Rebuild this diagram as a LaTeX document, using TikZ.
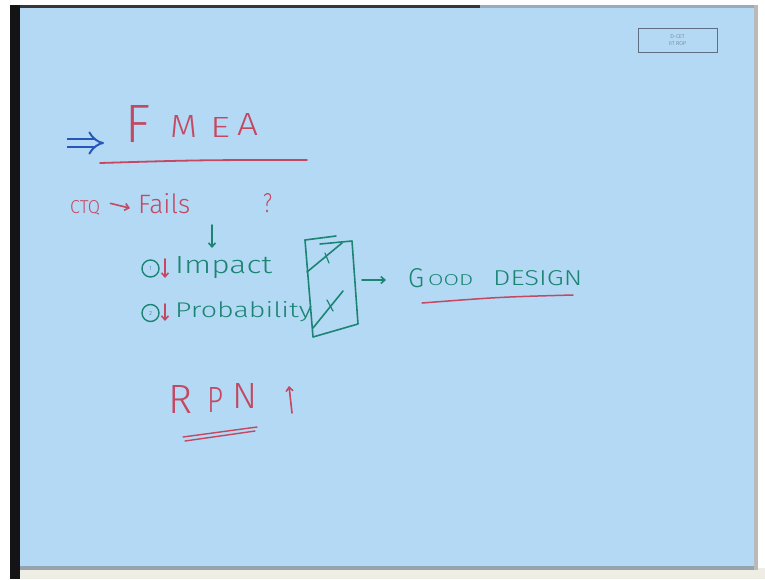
\documentclass[tikz,border=0pt]{standalone}
\usepackage{fontspec}
\setmainfont{Fira Sans}[UprightFont = * Light]
\usepackage{graphicx}
\usetikzlibrary{arrows.meta}

\definecolor{board}{RGB}{180,217,244}
\definecolor{mred}{RGB}{196,72,98}
\definecolor{mgreen}{RGB}{28,132,114}
\definecolor{mblue}{RGB}{38,88,188}
\definecolor{frame}{RGB}{20,20,22}
\definecolor{cream}{RGB}{238,238,228}
\definecolor{tagink}{RGB}{95,110,130}

% a word stretched to a given width and letter height
\newcommand\hw[3]{\resizebox{#1}{#2}{#3}}

\begin{document}
\begin{tikzpicture}[x=1pt,y=-1pt,
  ink/.style={line width=1.6pt, line cap=round, line join=round},
  redink/.style={ink, draw=mred},
  greenink/.style={ink, draw=mgreen},
  word/.style={inner sep=0pt, anchor=base west},
  barb/.style={-{Straight Barb[length=4pt,width=7pt]}},
  ring/.style={circle, draw=mgreen, line width=1.4pt, minimum size=17pt, inner sep=0pt,
               text=mgreen, font=\fontsize{6}{6}\selectfont}]
\useasboundingbox (0,0) rectangle (765,579);

% board and its edges
\fill[white] (0,0) rectangle (765,579);
\fill[cream] (20,568) rectangle (765,579);
\fill[board] (20,8) rectangle (754,568);
\fill[frame] (10,5) rectangle (20,579);
\fill[frame!85] (20,5) rectangle (480,8);
\fill[gray!50!board] (480,5) rectangle (754,8);
\fill[gray!55] (754,5) rectangle (758,570);
\fill[gray!60!board] (20,566) rectangle (754,570);

% corner tag
\node[draw=tagink, line width=0.6pt, minimum width=79pt, minimum height=24pt,
      inner sep=0pt, align=center, text=tagink,
      font=\fontsize{5.5}{6.5}\selectfont] (tag) at (677.5,40) {D-CET\\IIT ROP};

% title
\coordinate (imp0) at (67,143);
\coordinate (imp1) at (104,143);
\draw[draw=mblue, line width=2pt, double=board, double distance=6pt,
      -{Implies[length=7pt]}] (imp0) -- (imp1);
\node[word, text=mred] (tF) at (125,142) {\hw{25pt}{37pt}{F}};
\node[word, text=mred] (tM) at (170,137) {\hw{27pt}{22pt}{M}};
\node[word, text=mred] (tE) at (210,137) {\hw{20pt}{20pt}{E}};
\node[word, text=mred] (tA) at (237,135) {\hw{21pt}{22pt}{A}};
\coordinate (ul0) at (100,163);
\coordinate (ul1) at (307,160);
\draw[redink, line width=1.8pt] (ul0) .. controls (200,160) .. (ul1);

% CTQ -> Fails ?
\node[word, text=mred] (ctq) at (70,213) {\hw{30pt}{13pt}{CTQ}};
\node[word, text=mred] (fails) at (138,213) {\hw{52pt}{20pt}{Fails}};
\node[word, text=mred] (qm) at (263,212) {\hw{9pt}{19pt}{?}};
\draw[redink, barb] (ctq.east) ++(10,-4) coordinate (a0) -- ([xshift=-8pt, yshift=-5pt]fails.west) coordinate (a1);

\coordinate (d0) at (212,225);
\coordinate (d1) at (212,248);
\draw[greenink, barb] (d0) -- (d1);

% the two levers
\node[ring] (n1) at (150.5,268.5) {1};
\node[ring] (n2) at (150.5,313) {2};
\coordinate (r1a) at (165,259);
\coordinate (r1b) at (165,278);
\draw[redink, barb] (r1a) -- (r1b);
\coordinate (r2a) at (165,304);
\coordinate (r2b) at (165,321);
\draw[redink, barb] (r2a) -- (r2b);
\node[word, text=mgreen] (impact) at (175,273) {\hw{97pt}{17pt}{Impact}};
\node[word, text=mgreen] (prob) at (175,317) {\hw{137pt}{16pt}{Probability}};

% check box
\coordinate (b1) at (305,240);
\coordinate (b2) at (336,236);
\coordinate (b3) at (320,244);
\coordinate (b4) at (352,241);
\coordinate (b5) at (358,324);
\coordinate (b6) at (313,337);
\draw[greenink] (b1) -- (b2);
\draw[greenink] (b3) -- (b4) -- (b5) -- (b6) -- (b1);
\coordinate (k1a) at (307,272);
\coordinate (k1b) at (342,243);
\draw[greenink] (k1a) -- (k1b);
\draw[greenink, line width=1.2pt] (325,253) -- (329,263);
\coordinate (k2a) at (313,328);
\coordinate (k2b) at (343,291);
\draw[greenink] (k2a) -- (k2b);
\draw[greenink, line width=1.2pt] (327,300) -- (333,311);

% result
\coordinate (g0) at (362,280);
\coordinate (g1) at (386,280);
\draw[greenink, barb] (g0) -- (g1);
\node[word, text=mgreen] (gG) at (408,287) {\hw{16pt}{19pt}{G}};
\node[word, text=mgreen] (gOOD) at (428,285) {\hw{45pt}{11pt}{OOD}};
\node[word, text=mgreen] (gDES) at (493,285) {\hw{89pt}{15pt}{DESIGN}};
\coordinate (gu0) at (422,303);
\coordinate (gu1) at (573,295);
\draw[redink, line width=1.5pt] (gu0) .. controls (500,297) .. (gu1);

% RPN
\node[word, text=mred] (tR) at (168,413) {\hw{24pt}{28pt}{R}};
\node[word, text=mred] (tP) at (207,412) {\hw{16pt}{25pt}{P}};
\node[word, text=mred] (tN) at (232,408) {\hw{25pt}{25pt}{N}};
\coordinate (up0) at (292,413);
\coordinate (up1) at (289,386);
\draw[redink, barb] (up0) -- (up1);
\coordinate (ru0) at (183,437);
\coordinate (ru1) at (257,427);
\coordinate (ru2) at (185,441);
\coordinate (ru3) at (255,431);
\draw[redink, line width=1.4pt] (ru0) -- (ru1);
\draw[redink, line width=1.4pt] (ru2) -- (ru3);
\end{tikzpicture}
\end{document}
